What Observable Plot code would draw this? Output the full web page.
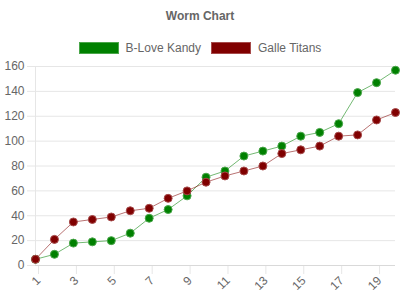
<!DOCTYPE html>
<html>
<head>
<meta charset="utf-8">
<script src="https://cdn.jsdelivr.net/npm/d3@7"></script>
<script src="https://cdn.jsdelivr.net/npm/@observablehq/plot@0.6"></script>
<style>
  html, body { margin: 0; padding: 0; background: #fff; }
  #wrap { position: relative; width: 400px; height: 300px; font-family: "Liberation Sans", Arial, Helvetica, sans-serif; color: #666; }
  #title { position: absolute; top: 9px; left: 0; width: 400px; text-align: center; font-weight: bold; font-size: 12px; line-height: 14px; }
  #legend { position: absolute; top: 41px; left: 0; width: 400px; display: flex; justify-content: center; font-size: 12px; line-height: 14px; }
  .item { display: flex; align-items: center; margin: 0 5px; }
  .sw { width: 38px; height: 10px; margin-right: 7px; box-sizing: content-box; }
  #chart { position: absolute; top: 0; left: 0; }
</style>
</head>
<body>
<div id="wrap">
  <div id="chart"></div>
  <div id="title"></div>
  <div id="legend"></div>
</div>
<script>
const chartTitle = "Worm Chart";
const overs = [1,2,3,4,5,6,7,8,9,10,11,12,13,14,15,16,17,18,19,20];
const seriesNames = ["B-Love Kandy", "Galle Titans"];
const kandyRuns = [5,9,18,19,20,26,38,45,56,71,76,88,92,96,104,107,114,139,147,157];
const galleRuns = [5,21,35,37,39,44,46,54,60,67,72,76,80,90,93,96,104,105,117,123];
const xTicks = [1,3,5,7,9,11,13,15,17,19];
const yTicks = [0,20,40,60,80,100,120,140,160];
const seriesColors = ["#008000", "#800000"];
const dotStrokes = ["#4aa64a", "#a64a4a"];

document.getElementById("title").textContent = chartTitle;
const legend = document.getElementById("legend");
seriesNames.forEach((n, i) => {
  const it = document.createElement("div"); it.className = "item";
  const sw = document.createElement("div"); sw.className = "sw";
  sw.style.background = seriesColors[i];
  sw.style.border = "1px solid " + dotStrokes[i];
  const t = document.createElement("span"); t.textContent = n;
  it.appendChild(sw); it.appendChild(t); legend.appendChild(it);
});

const data = [];
overs.forEach((o, i) => {
  data.push({over: o, runs: kandyRuns[i], team: seriesNames[0]});
  data.push({over: o, runs: galleRuns[i], team: seriesNames[1]});
});

const grid = "#e6e6e6";
const plot = Plot.plot({
  width: 400, height: 300,
  marginTop: 66, marginBottom: 35, marginLeft: 35, marginRight: 5,
  style: { fontFamily: "'Liberation Sans', Arial, Helvetica, sans-serif", fontSize: "12px", color: "#666", background: "transparent", overflow: "visible" },
  x: { domain: [1, 20] },
  y: { domain: [0, 160] },
  color: { domain: seriesNames, range: seriesColors },
  marks: [
    Plot.ruleY(yTicks, { y: d => d, stroke: grid, strokeOpacity: 1 }),
    Plot.ruleX([1], { stroke: grid }),
    Plot.axisY(yTicks, { tickSize: 8, tickPadding: 3, stroke: grid, color: "#666", label: null }),
    Plot.axisX(xTicks, { tickSize: 8, tickPadding: 4, tickRotate: -45, stroke: grid, color: "#666", label: null, fontSize: 12, dx: 3, dy: 1 }),
    Plot.ruleY([0], { stroke: "#d9d9d9" }),
    Plot.line(data, { x: "over", y: "runs", z: "team", stroke: "team", strokeWidth: 1, strokeOpacity: 0.55 }),
    Plot.dot(data, { x: "over", y: "runs", fill: "team", stroke: d => d.team === seriesNames[0] ? dotStrokes[0] : dotStrokes[1], strokeWidth: 1, r: 4 })
  ]
});
document.getElementById("chart").appendChild(plot);
</script>
</body>
</html>
